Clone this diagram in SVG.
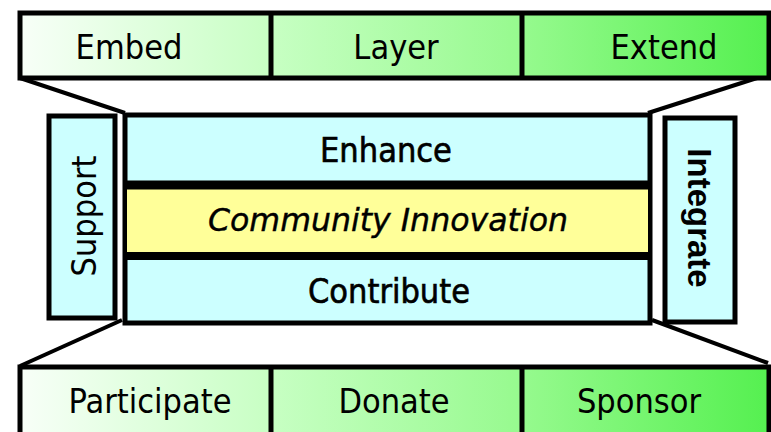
<svg xmlns="http://www.w3.org/2000/svg" width="771" height="432" viewBox="0 0 771 432">
<defs>
<linearGradient id="g" gradientUnits="userSpaceOnUse" x1="20" y1="0" x2="769" y2="0">
<stop offset="0" stop-color="#f8fff8"/>
<stop offset="0.33" stop-color="#c8ffc4"/>
<stop offset="0.66" stop-color="#98fa90"/>
<stop offset="1" stop-color="#55f050"/>
</linearGradient>
<style>
.bar{fill:url(#g);stroke:#000;stroke-width:5}
.div{stroke:#000;stroke-width:5}
.t{font-family:"DejaVu Sans Condensed","DejaVu Sans",sans-serif;font-size:34px;fill:#000;text-anchor:middle}
.cy{fill:#ccffff;stroke:#000;stroke-width:5}
.ln{stroke:#000;stroke-width:4;fill:none}
</style>
</defs>
<g id="connectors">
<line class="ln" x1="20" y1="78" x2="125" y2="113"/>
<line class="ln" x1="757" y1="78" x2="648" y2="113"/>
<line class="ln" x1="20" y1="366" x2="122" y2="320"/>
<line class="ln" x1="652" y1="320" x2="768" y2="363"/>
</g>
<g id="top-bar">
<rect class="bar" x="20" y="13" width="749" height="65"/>
<line class="div" x1="271" y1="13" x2="271" y2="78"/>
<line class="div" x1="522" y1="13" x2="522" y2="78"/>
<g id="embed"><text class="t" x="129" y="59">Embed</text></g>
<g id="layer"><text class="t" x="396" y="59">Layer</text></g>
<g id="extend"><text class="t" x="664" y="59">Extend</text></g>
</g>
<g id="bottom-bar">
<rect class="bar" x="20" y="367" width="749" height="80"/>
<line class="div" x1="271" y1="367" x2="271" y2="440"/>
<line class="div" x1="522" y1="367" x2="522" y2="440"/>
<g id="participate"><text class="t" x="150" y="413">Participate</text></g>
<g id="donate"><text class="t" x="394" y="413">Donate</text></g>
<g id="sponsor"><text class="t" x="639" y="413">Sponsor</text></g>
</g>
<g id="core">
<rect class="cy" x="125" y="115" width="525" height="208"/>
<rect x="127" y="189" width="521" height="63" fill="#ffff99"/>
<line stroke="#000" stroke-width="9" x1="123" y1="185" x2="652" y2="185"/>
<line stroke="#000" stroke-width="8" x1="123" y1="256" x2="652" y2="256"/>
<g id="enhance"><text class="t" x="386" y="162" stroke="#000" stroke-width="0.6">Enhance</text></g>
<g id="community"><text x="388" y="231" font-family="'DejaVu Sans',sans-serif" font-style="italic" font-size="32" text-anchor="middle" stroke="#000" stroke-width="0.4" textLength="360" lengthAdjust="spacingAndGlyphs">Community Innovation</text></g>
<g id="contribute"><text class="t" x="389" y="303" stroke="#000" stroke-width="0.6">Contribute</text></g>
</g>
<g id="support">
<rect class="cy" x="49" y="116" width="66" height="202"/>
<text class="t" transform="translate(96,216) rotate(-90)" x="0" y="0">Support</text>
</g>
<g id="integrate">
<rect class="cy" x="665" y="118" width="70" height="204"/>
<text transform="translate(688,218) rotate(90)" x="0" y="0" font-family="'Liberation Sans',Arial,sans-serif" font-weight="bold" font-size="33" text-anchor="middle">Integrate</text>
</g>
</svg>
